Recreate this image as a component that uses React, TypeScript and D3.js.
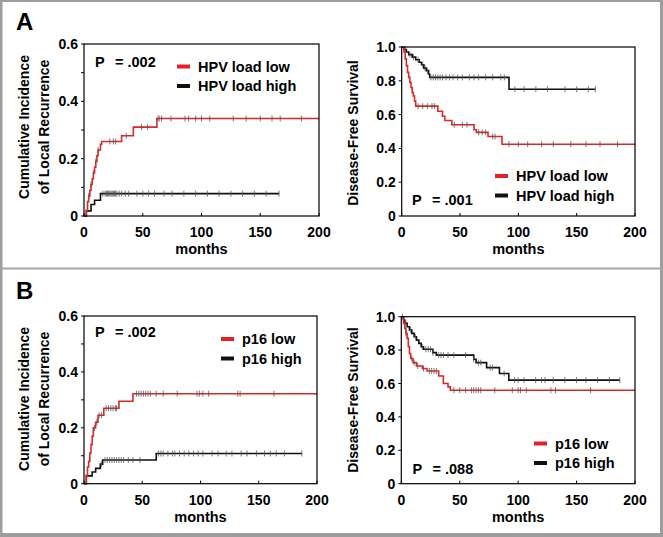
import React from "react";
import * as d3 from "d3";

// ---------- data ----------
const xTickValues = [0, 50, 100, 150, 200];
const cifTickValues = [0, 0.2, 0.4, 0.6];
const cifTickLabels = ["0", "0.2", "0.4", "0.6"];
const cifMinorTicks = [0.1, 0.3, 0.5];
const dfsTickValues = [0, 0.2, 0.4, 0.6, 0.8, 1.0];
const dfsTickLabels = ["0", "0.2", "0.4", "0.6", "0.8", "1.0"];

// Panel A left: cumulative incidence, HPV load
const aCifLowSteps: [number, number][] = [[0,0],[2,0.02],[3,0.05],[4,0.07],[5,0.09],[6,0.11],[7,0.13],[8,0.15],[9,0.17],[10,0.19],[11,0.21],[12,0.23],[14,0.25],[15,0.26],[32,0.28],[42,0.31],[62,0.34]];
const aCifLowEnd = 200;
const aCifLowCensor = [4,6,8,10,12,22,25,27,36,49,54,63,64,66,74,86,89,95,100,107,127,138,150,160,167,185];
const aCifHighSteps: [number, number][] = [[0,0],[2,0.018],[6,0.04],[9,0.055],[14,0.078]];
const aCifHighEnd = 166;
const aCifHighCensor = [16,18,19,20,21,22,23,24,25,26,27,28,30,32,35,38,45,50,55,60,68,75,85,95,105,115,125,135,145,155,166];

// Panel A right: disease-free survival, HPV load
const aDfsLowSteps: [number, number][] = [[0,1],[2,0.97],[3,0.93],[4,0.89],[5,0.85],[6,0.82],[7,0.79],[8,0.76],[9,0.73],[10,0.71],[11,0.68],[12,0.65],[31,0.62],[35,0.59],[37,0.565],[43,0.54],[62,0.51],[64,0.495],[74,0.47],[86,0.425]];
const aDfsLowEnd = 200;
const aDfsLowCensor = [14,18,22,26,28,45,52,56,66,69,72,78,80,92,100,108,120,130,145,158,170,185];
const aDfsHighSteps: [number, number][] = [[0,1],[2,0.985],[4,0.97],[6,0.955],[9,0.94],[12,0.925],[15,0.91],[17,0.895],[19,0.875],[21,0.86],[23,0.84],[24,0.82],[92,0.75]];
const aDfsHighEnd = 166;
const aDfsHighCensor = [3,7,10,14,18,20,22,25,27,29,31,33,35,38,41,44,48,52,58,62,66,72,78,85,88,97,105,115,125,140,150,160,166];

// Panel B left: cumulative incidence, p16
const bCifLowSteps: [number, number][] = [[0,0],[2,0.03],[3,0.06],[4,0.08],[5,0.11],[6,0.14],[7,0.17],[8,0.2],[10,0.22],[12,0.245],[17,0.27],[30,0.295],[42,0.322]];
const bCifLowEnd = 200;
const bCifLowCensor = [9,11,13,15,19,21,23,25,27,28,45,47,49,51,53,55,57,62,68,80,97,99,102,107,132,134,163];
const bCifHighSteps: [number, number][] = [[0,0],[2,0.028],[7,0.042],[10,0.055],[14,0.07],[16,0.085],[62,0.108]];
const bCifHighEnd = 187;
const bCifHighCensor = [15,18,20,22,24,26,28,30,32,34,38,42,48,64,66,68,72,76,78,82,86,90,94,98,102,110,115,122,127,135,140,148,155,160,165,172,187];

// Panel B right: disease-free survival, p16
const bDfsLowSteps: [number, number][] = [[0,1],[2,0.96],[3,0.93],[4,0.9],[5,0.87],[6,0.82],[7,0.78],[8,0.75],[10,0.725],[13,0.705],[18,0.69],[22,0.675],[32,0.645],[36,0.6],[40,0.58],[42,0.56]];
const bDfsLowEnd = 200;
const bDfsLowCensor = [4,9,11,14,19,24,26,28,30,45,50,55,60,62,64,66,68,80,95,100,102,107,128,132,162];
const bDfsHighSteps: [number, number][] = [[0,1],[2,0.98],[3,0.96],[5,0.94],[7,0.92],[9,0.9],[11,0.88],[13,0.86],[15,0.84],[17,0.82],[19,0.805],[27,0.785],[30,0.77],[62,0.745],[64,0.725],[73,0.695],[84,0.66],[92,0.62]];
const bDfsHighEnd = 187;
const bDfsHighCensor = [1,4,8,12,18,21,23,25,27,32,34,36,40,45,55,62,66,68,76,78,88,97,100,105,115,120,123,130,140,150,158,168,178,187];

const legendA = ["HPV load low", "HPV load high"];
const legendB = ["p16 low", "p16 high"];
const pValues = ["P", "= .002", "= .001", "= .002", "= .088"];

// ---------- styles ----------
const RED = "#d92a2a";
const RED_LEG = "#e4202a";
const BLACK = "#111";
const FONT = "'Liberation Sans', Arial, Helvetica, sans-serif";

type Series = { steps: [number, number][]; end: number; censor: number[]; color: string };

function valueAt(steps: [number, number][], t: number) {
  let v = steps[0][1];
  for (const [s, val] of steps) if (s <= t) v = val;
  return v;
}

type PanelProps = {
  x0: number; x1: number; yTop: number; yBot: number;
  yMax: number; yTicks: number[]; yLabels: string[]; minor: number[];
  series: Series[];
  titleLines: string[]; titleX: number[]; titleY: number;
  legend: string[]; legX: number; legY: number;
  pText: string; pX: number; pY: number;
};

function Panel(p: PanelProps) {
  const x = d3.scaleLinear().domain([0, 200]).range([p.x0, p.x1]);
  const y = d3.scaleLinear().domain([0, p.yMax]).range([p.yBot, p.yTop]);
  const line = d3.line<[number, number]>().x(d => x(d[0])).y(d => y(d[1])).curve(d3.curveStepAfter);
  const midX = (p.x0 + p.x1) / 2;
  return (
    <g fontFamily={FONT} fontWeight="bold">
      {p.series.map((s, i) => {
        const pts: [number, number][] = [...s.steps, [s.end, s.steps[s.steps.length - 1][1]]];
        return (
          <g key={i}>
            <path d={line(pts) || ""} fill="none" stroke={s.color} strokeWidth={1.6} />
            {s.censor.map((c, j) => (
              <line key={j} x1={x(c)} x2={x(c)} y1={y(valueAt(s.steps, c)) - 3} y2={y(valueAt(s.steps, c)) + 3}
                stroke="#555" strokeWidth={0.8} />
            ))}
          </g>
        );
      })}
      <rect x={p.x0} y={p.yTop} width={p.x1 - p.x0} height={p.yBot - p.yTop} fill="none" stroke="#000" strokeWidth={1.2} />
      {p.yTicks.map((t, i) => (
        <g key={i}>
          <line x1={p.x0 - 3} x2={p.x0} y1={y(t)} y2={y(t)} stroke="#000" strokeWidth={1} />
          <text x={p.x0 - 6} y={y(t)} dy="0.36em" textAnchor="end" fontSize={14}>{p.yLabels[i]}</text>
        </g>
      ))}
      {p.minor.map((t, i) => (
        <line key={i} x1={p.x0 - 3} x2={p.x0} y1={y(t)} y2={y(t)} stroke="#000" strokeWidth={1} />
      ))}
      {xTickValues.map((t, i) => (
        <g key={i}>
          <line x1={x(t)} x2={x(t)} y1={p.yBot} y2={p.yBot - 3} stroke="#000" strokeWidth={1} />
          <text x={x(t)} y={p.yBot + 21} textAnchor="middle" fontSize={14}>{t}</text>
        </g>
      ))}
      <text x={midX} y={p.yBot + 38} textAnchor="middle" fontSize={14.5}>months</text>
      {p.titleLines.map((tl, i) => (
        <text key={i} transform={`translate(${p.titleX[i]},${p.titleY}) rotate(-90)`} textAnchor="middle" fontSize={14}>{tl}</text>
      ))}
      {p.legend.map((l, i) => (
        <g key={i}>
          <line x1={p.legX} x2={p.legX + 13} y1={p.legY + i * 19.5} y2={p.legY + i * 19.5}
            stroke={i === 0 ? RED_LEG : BLACK} strokeWidth={4} />
          <text x={p.legX + 21} y={p.legY + i * 19.5} dy="0.36em" fontSize={14.5}>{l}</text>
        </g>
      ))}
      <text x={p.pX} y={p.pY} fontSize={14.5}>{pValues[0]}</text>
      <text x={p.pX + 20} y={p.pY} fontSize={14.5}>{p.pText}</text>
    </g>
  );
}

export default function App() {
  React.useEffect(() => { document.body.style.margin = "0"; }, []);
  return (
    <svg width={663} height={537} style={{ position: "absolute", left: 0, top: 0, background: "#fff" }}>
      <rect x={0} y={0} width={663} height={537} fill="#fff" />
      <rect x={0} y={0} width={2.5} height={537} fill="#9d9d9d" />
      <rect x={0} y={0} width={663} height={2} fill="#9d9d9d" />
      <rect x={660} y={0} width={3} height={537} fill="#9d9d9d" />
      <rect x={0} y={533} width={663} height={4} fill="#9d9d9d" />
      <rect x={0} y={267.5} width={663} height={2} fill="#a5a5a5" />

      <text x={16} y={30} fontFamily={FONT} fontWeight="bold" fontSize={24}>A</text>
      <text x={16} y={299} fontFamily={FONT} fontWeight="bold" fontSize={24}>B</text>

      <Panel x0={84} x1={319} yTop={44} yBot={216} yMax={0.6} yTicks={cifTickValues} yLabels={cifTickLabels} minor={cifMinorTicks}
        series={[
          { steps: aCifHighSteps, end: aCifHighEnd, censor: aCifHighCensor, color: BLACK },
          { steps: aCifLowSteps, end: aCifLowEnd, censor: aCifLowCensor, color: RED },
        ]}
        titleLines={["Cumulative Incidence", "of Local Recurrence"]} titleX={[29, 49]} titleY={127}
        legend={legendA} legX={177} legY={66.5} pText={pValues[1]} pX={95} pY={67} />

      <Panel x0={401.7} x1={635} yTop={47} yBot={216} yMax={1} yTicks={dfsTickValues} yLabels={dfsTickLabels} minor={[]}
        series={[
          { steps: aDfsHighSteps, end: aDfsHighEnd, censor: aDfsHighCensor, color: BLACK },
          { steps: aDfsLowSteps, end: aDfsLowEnd, censor: aDfsLowCensor, color: RED },
        ]}
        titleLines={["Disease-Free Survival"]} titleX={[358]} titleY={133}
        legend={legendA} legX={495} legY={176} pText={pValues[2]} pX={412} pY={205} />

      <Panel x0={84} x1={317} yTop={316} yBot={483.7} yMax={0.6} yTicks={cifTickValues} yLabels={cifTickLabels} minor={cifMinorTicks}
        series={[
          { steps: bCifHighSteps, end: bCifHighEnd, censor: bCifHighCensor, color: BLACK },
          { steps: bCifLowSteps, end: bCifLowEnd, censor: bCifLowCensor, color: RED },
        ]}
        titleLines={["Cumulative Incidence", "of Local Recurrence"]} titleX={[29, 49]} titleY={399}
        legend={legendB} legX={221} legY={339} pText={pValues[3]} pX={95} pY={337} />

      <Panel x0={401.3} x1={635} yTop={316.7} yBot={483.7} yMax={1} yTicks={dfsTickValues} yLabels={dfsTickLabels} minor={[]}
        series={[
          { steps: bDfsHighSteps, end: bDfsHighEnd, censor: bDfsHighCensor, color: BLACK },
          { steps: bDfsLowSteps, end: bDfsLowEnd, censor: bDfsLowCensor, color: RED },
        ]}
        titleLines={["Disease-Free Survival"]} titleX={[358]} titleY={400}
        legend={legendB} legX={534} legY={443.5} pText={pValues[4]} pX={412.5} pY={473.5} />
    </svg>
  );
}
